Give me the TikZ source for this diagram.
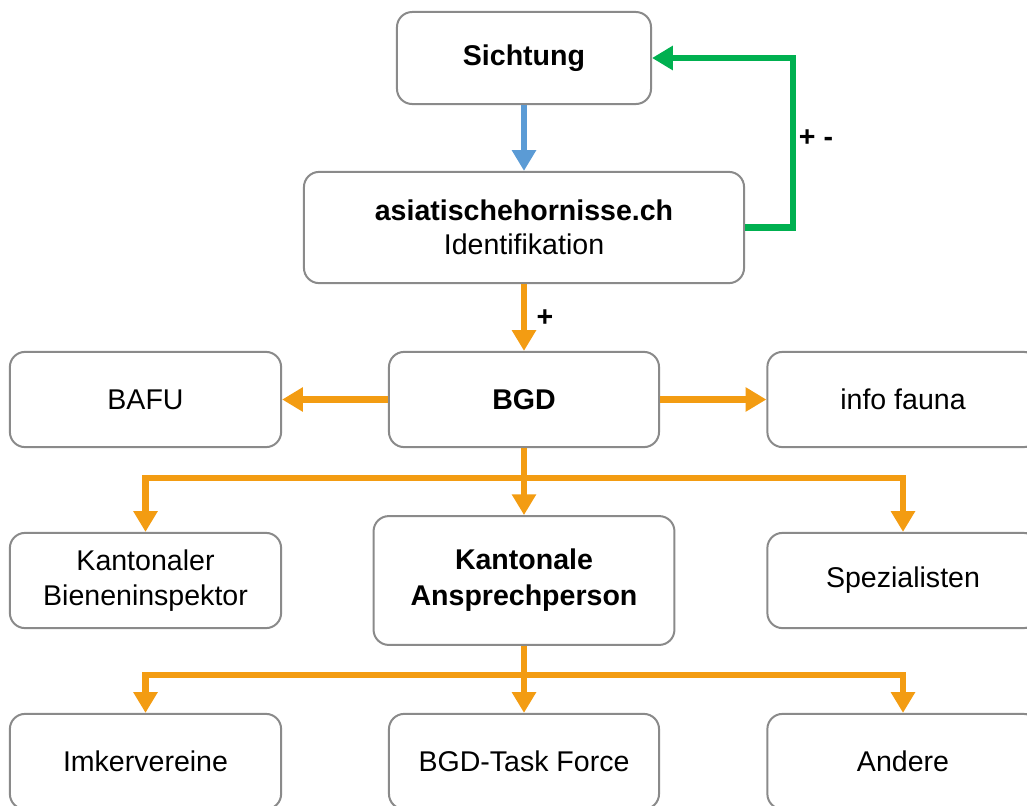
\documentclass[tikz,border=0pt]{standalone}
\usepackage{fontspec}
\setmainfont{Liberation Sans}
\usetikzlibrary{arrows.meta}
\definecolor{boxgray}{HTML}{8A8A8A}
\definecolor{flworange}{HTML}{F39C12}
\definecolor{flwgreen}{HTML}{00B050}
\definecolor{flwblue}{HTML}{5B9BD5}
\begin{document}
\begin{tikzpicture}[x=0.025cm,y=-0.025cm,
  box/.style={draw=boxgray, line width=0.05cm, rounded corners=0.38cm, align=center,
    inner sep=0pt, font=\fontsize{20.3}{24.5}\selectfont},
  flow/.style={line width=0.16cm, -{Triangle[width=0.58cm,length=0.52cm]}},
  sign/.style={font=\bfseries\fontsize{20.3}{24.5}\selectfont}]
\useasboundingbox (0,0) rectangle (1027,805);
\node[box, minimum width=6.35cm, minimum height=2.3cm] (sicht) at (524,58) {\textbf{Sichtung}};
\node[box, minimum width=11cm, minimum height=2.78cm] (ident) at (524,227.5) {\textbf{asiatischehornisse.ch}\\Identifikation};
\node[box, minimum width=6.78cm, minimum height=2.38cm] (bafu) at (145.5,399.5) {BAFU};
\node[box, minimum width=6.75cm, minimum height=2.38cm] (bgd) at (524,399.5) {\textbf{BGD}};
\node[box, minimum width=6.78cm, minimum height=2.38cm] (info) at (903,399.5) {info fauna};
\node[box, minimum width=6.78cm, minimum height=2.38cm] (inspektor) at (145.5,580.5) {Kantonaler\\Bieneninspektor};
\node[box, minimum width=7.52cm, minimum height=3.22cm] (ansprech) at (524,580.5) {\textbf{Kantonale}\\[1pt]\textbf{Ansprechperson}};
\node[box, minimum width=6.78cm, minimum height=2.38cm] (spez) at (903,580.5) {Spezialisten};
\node[box, minimum width=6.78cm, minimum height=2.38cm] (imker) at (145.5,761.5) {Imkervereine};
\node[box, minimum width=6.75cm, minimum height=2.38cm] (task) at (524,761.5) {BGD-Task Force};
\node[box, minimum width=6.78cm, minimum height=2.38cm] (andere) at (903,761.5) {Andere};
\node[sign] (plusminus) at (816,138) {+ -};
\node[sign] (plus) at (545,318) {+};
\coordinate (split1) at (524,478);
\coordinate (split2) at (524,675);
% Sichtung und Identifikation
\draw[flow, flwblue] (sicht) -- (ident);
\draw[flow, flwgreen] (ident.east) -- ++(48,0) |- (sicht.east);
\draw[flow, flworange] (ident) -- (bgd);
% BGD
\draw[flow, flworange] (bgd) -- (bafu);
\draw[flow, flworange] (bgd) -- (info);
\draw[flow, flworange] (bgd) -- (ansprech);
\draw[flow, flworange] (split1) -| (inspektor.north);
\draw[flow, flworange] (split1) -| (spez.north);
% Kantonale Ansprechperson
\draw[flow, flworange] (ansprech) -- (task);
\draw[flow, flworange] (split2) -| (imker.north);
\draw[flow, flworange] (split2) -| (andere.north);

\end{tikzpicture}
\end{document}
